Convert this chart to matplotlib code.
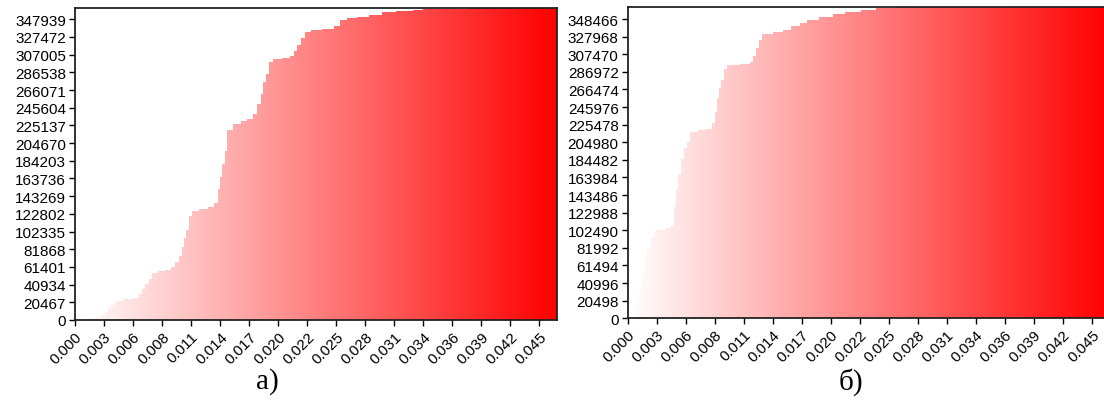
import matplotlib
matplotlib.use("Agg")
import matplotlib.pyplot as plt
import numpy as np
from matplotlib.colors import LinearSegmentedColormap

# panel a) cumulative step curve (x = start of step, y = level)
xa = [0.0000, 0.0013, 0.0020, 0.0025, 0.0029, 0.0032, 0.0035, 0.0039, 0.0046, 0.0056,
      0.0062, 0.0065, 0.0068, 0.0071, 0.0074, 0.0080, 0.0087, 0.0093, 0.0096, 0.0100,
      0.0103, 0.0105, 0.0107, 0.0110, 0.0113, 0.0120, 0.0128, 0.0134, 0.0138, 0.0140,
      0.0142, 0.0145, 0.0147, 0.0152, 0.0160, 0.0166, 0.0172, 0.0176, 0.0179, 0.0181,
      0.0184, 0.0187, 0.0191, 0.0200, 0.0207, 0.0211, 0.0214, 0.0218, 0.0222, 0.0228,
      0.0238, 0.0250, 0.0256, 0.0262, 0.0272, 0.0284, 0.0296, 0.0310, 0.0326, 0.0336,
      0.0380]
ya = [0, 2000, 4000, 7000, 9000, 14000, 17000, 22000, 24000, 25500,
      30000, 36000, 42000, 48000, 54000, 56500, 58000, 61500, 67000, 74000,
      84000, 95000, 104000, 120000, 126000, 128500, 130500, 135000, 152000, 165000,
      180000, 195000, 220000, 227000, 230000, 233000, 238000, 250000, 262000, 275000,
      285000, 298000, 301500, 303000, 305500, 311000, 318000, 326000, 333000, 335500,
      337000, 340000, 347000, 349000, 351000, 353000, 356500, 357500, 358500, 360000,
      360600]

# panel b)
xb = [0.0000, 0.0004, 0.0007, 0.0009, 0.0011, 0.0013, 0.0015, 0.0017, 0.0019, 0.0022,
      0.0026, 0.0036, 0.0042, 0.0045, 0.0047, 0.0049, 0.0051, 0.0054, 0.0057, 0.0060,
      0.0068, 0.0076, 0.0081, 0.0084, 0.0086, 0.0088, 0.0090, 0.0093, 0.0096, 0.0108,
      0.0118, 0.0121, 0.0124, 0.0127, 0.0130, 0.0140, 0.0150, 0.0158, 0.0166, 0.0173,
      0.0185, 0.0198, 0.0210, 0.0225, 0.0240, 0.0260, 0.0280]
yb = [0, 3000, 10000, 18000, 30000, 42000, 55000, 68000, 82000, 95000,
      103000, 105000, 108000, 130000, 150000, 168000, 185000, 198000, 205000, 217000,
      219000, 221000, 227000, 240000, 256000, 268000, 278000, 290000, 294500, 296500,
      299000, 306000, 315000, 324000, 331000, 333000, 336000, 340000, 344000, 347500,
      351000, 354500, 357000, 359000, 361000, 362500, 363100]

x_ticks = [0.0000, 0.0028, 0.0056, 0.0084, 0.0112, 0.0140, 0.0168, 0.0196, 0.0224,
           0.0252, 0.0280, 0.0308, 0.0336, 0.0364, 0.0392, 0.0420, 0.0448]
x_labels = ["0.000", "0.003", "0.006", "0.008", "0.011", "0.014", "0.017", "0.020",
            "0.022", "0.025", "0.028", "0.031", "0.034", "0.036", "0.039", "0.042", "0.045"]

ya_ticks = [0, 20467, 40934, 61401, 81868, 102335, 122802, 143269, 163736, 184203,
            204670, 225137, 245604, 266071, 286538, 307005, 327472, 347939]
yb_ticks = [0, 20498, 40996, 61494, 81992, 102490, 122988, 143486, 163984, 184482,
            204980, 225478, 245976, 266474, 286972, 307470, 327968, 348466]

X_MAX = 0.0465
cmap = LinearSegmentedColormap.from_list("wr", ["#ffffff", "#ff0000"])
grad = np.linspace(0, 1, 256).reshape(1, -1)

fig = plt.figure(figsize=(11.04, 4.02), dpi=100)
ax_a = fig.add_axes([75 / 1104, 81 / 402, 482 / 1104, 312 / 402])
ax_b = fig.add_axes([627.7 / 1104, 82.7 / 402, 482 / 1104, 311.8 / 402])


def draw_panel(ax, xs, ys, yticks, ytop):
    x = np.append(xs, X_MAX)
    y = np.append(ys, ys[-1])
    im = ax.imshow(grad, extent=[0, X_MAX, 0, ytop], aspect="auto",
                   cmap=cmap, origin="lower", zorder=1, interpolation="bilinear")
    poly = ax.fill_between(x, y, step="post", facecolor="none", edgecolor="none")
    im.set_clip_path(poly.get_paths()[0], transform=ax.transData)
    ax.set_xlim(0, X_MAX)
    ax.set_ylim(0, ytop)
    ax.set_xticks(x_ticks)
    ax.set_xticklabels(x_labels, rotation=45, ha="right", va="top",
                       rotation_mode="anchor")
    ax.set_yticks(yticks)
    ax.set_yticklabels([str(v) for v in yticks])
    ax.tick_params(direction="out", length=4.5, width=1, color="black",
                   labelsize=11, pad=2)
    for lab in ax.get_xticklabels() + ax.get_yticklabels():
        lab.set_family("Liberation Sans")
    for s in ax.spines.values():
        s.set_linewidth(1.3)
        s.set_color("#222222")


draw_panel(ax_a, xa, ya, ya_ticks, 361000)
draw_panel(ax_b, xb, yb, yb_ticks, 363130)

fig.text(267 / 1104, 1 - 382 / 402, "а)", ha="center", va="center",
         family="Liberation Serif", fontsize=21)
fig.text(851 / 1104, 1 - 382 / 402, "б)", ha="center", va="center",
         family="Liberation Serif", fontsize=21)

fig.savefig("out.png", dpi=100)
